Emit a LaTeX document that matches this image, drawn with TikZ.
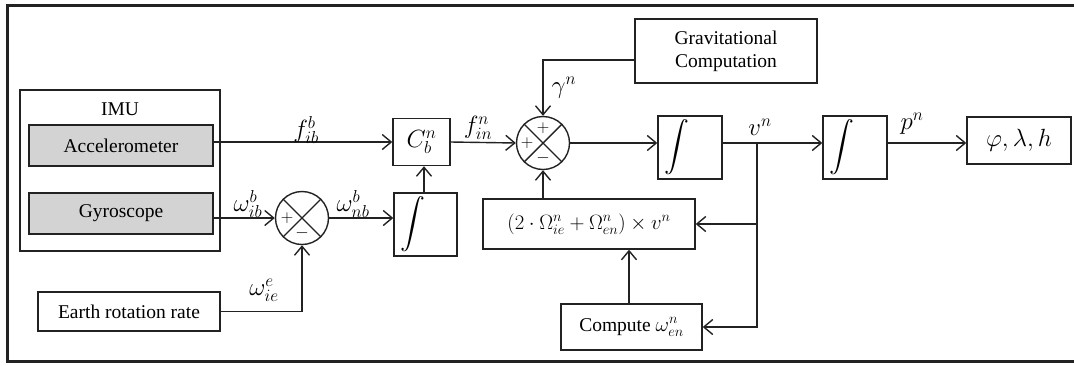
\documentclass[tikz,border=0pt]{standalone}
\usepackage{amsmath}
\usepackage{exscale}
\usepackage{fontspec}
\setmainfont{Liberation Serif}
\usetikzlibrary{arrows.meta}
\definecolor{boxgray}{RGB}{211,211,211}
\definecolor{ink}{RGB}{34,34,34}
\begin{document}
\begin{tikzpicture}[x=1pt,y=-1pt,
  every node/.style={font=\rmfamily\fontsize{19.5}{23}\selectfont},
  mfont/.style={font=\rmfamily\fontsize{23}{26}\selectfont},
  sfont/.style={font=\rmfamily\fontsize{19}{22}\selectfont},
  blk/.style={draw=ink,line width=1.4pt,rectangle,inner sep=0pt,align=center},
  sumnode/.style={draw=ink,line width=1.4pt,circle,minimum size=53pt,inner sep=0pt},
  arr/.style={draw=ink,line width=1.4pt,-{Straight Barb[length=9pt,width=15pt,line width=1.4pt]}},
  ln/.style={draw=ink,line width=1.4pt},
  lbl/.style={inner sep=0pt,mfont},
  sgn/.style={inner sep=0pt,sfont}]
\useasboundingbox (0,0) rectangle (1074,365);
% outer frame (right side outside the picture)
\draw[ink,line width=3pt] (1080,5) -- (7,5) -- (7,361) -- (1080,361);

% IMU group
\node[blk,minimum width=200pt,minimum height=161pt] (imu) at (120,170.5) {};
\node[inner sep=0pt] (imulbl) at (120,109) {IMU};
\node[blk,fill=boxgray,minimum width=184pt,minimum height=41pt] (acc) at (121,145.5) {Accelerometer};
\node[blk,fill=boxgray,minimum width=184pt,minimum height=41pt] (gyro) at (121,213.5) {Gyroscope};
\node[blk,minimum width=182pt,minimum height=39pt] (earth) at (129,311.5) {Earth rotation rate};

% sum 1
\node[sumnode] (s1) at (302,218) {};
\draw[ln] (s1.north west) -- (s1.south east);
\draw[ln] (s1.north east) -- (s1.south west);
\node[sgn] (s1p) at ([xshift=-15pt]s1.center) {$+$};
\node[sgn] (s1m) at ([yshift=-15pt]s1.center) {$-$};

% integrator 1 and Cbn
\node[blk,minimum width=63pt,minimum height=63pt,mfont] (int1) at (425.5,224.5) {$\displaystyle\int$\hspace{26pt}};
\node[blk,minimum width=57pt,minimum height=47pt,mfont] (cbn) at (421.5,142) {$C_b^n$};

% sum 2
\node[sumnode] (s2) at (543,143) {};
\draw[ln] (s2.north west) -- (s2.south east);
\draw[ln] (s2.north east) -- (s2.south west);
\node[sgn] (s2l) at ([xshift=-16pt]s2.center) {$+$};
\node[sgn] (s2t) at ([yshift=15pt]s2.center) {$+$};
\node[sgn] (s2m) at ([yshift=-15pt]s2.center) {$-$};

% gravitational computation
\node[blk,minimum width=182pt,minimum height=64pt] (grav) at (726,51) {Gravitational\\Computation};

% integrator 2, coriolis, compute
\node[blk,minimum width=64pt,minimum height=63pt,mfont] (int2) at (690,147.5) {$\displaystyle\int$\hspace{26pt}};
\node[blk,minimum width=212pt,minimum height=50pt,font=\rmfamily\fontsize{21.5}{24}\selectfont] (cor) at (589,224) {$(2\cdot\Omega_{ie}^n+\Omega_{en}^n)\times v^n$};
\node[blk,minimum width=141pt,minimum height=46pt] (comp) at (631.5,327) {Compute {\fontsize{22}{24}\selectfont$\omega_{en}^n$}};

% integrator 3 and output
\node[blk,minimum width=64pt,minimum height=63pt,mfont] (int3) at (855,147.5) {$\displaystyle\int$\hspace{26pt}};
\node[blk,minimum width=104pt,minimum height=47pt,mfont] (out) at (1019,140.5) {$\varphi,\lambda,h$};

\coordinate (vb) at (757,143);

% connectors
\draw[arr] (acc.east |- cbn) -- (cbn.west);
\draw[arr] (gyro.east |- s1) -- (s1.west);
\draw[arr] (earth.east) -| (s1.south);
\draw[arr] (s1.east) -- (s1.east -| int1.west);
\draw[arr] (int1.north -| 424,0) -- (cbn.south -| 424,0);
\draw[arr] (cbn.east) -- (s2.west);
\draw[arr] ([yshift=-9pt]grav.west) -| (s2.north);
\draw[arr] (s2.south |- cor.north) -- (s2.south);
\draw[arr] (s2.east) -- (s2.east -| int2.west);
\draw[ln] (int2.east |- vb) -- (vb);
\draw[arr] (vb) -- (vb -| int3.west);
\draw[arr] (vb) |- (cor.east);
\draw[arr] (vb) |- (comp.east);
\draw[arr] (comp.north -| 629,0) -- (cor.south -| 629,0);
\draw[arr] (int3.east |- vb) -- (out.west |- vb);

% signal labels
\node[lbl] (lfib) at (306,130) {$f_{ib}^b$};
\node[lbl] (lwib) at (248,204) {$\omega_{ib}^b$};
\node[lbl] (lwie) at (264,290) {$\omega_{ie}^e$};
\node[lbl] (lwnb) at (353,204) {$\omega_{nb}^b$};
\node[lbl] (lfin) at (478,128) {$f_{in}^n$};
\node[lbl] (lgam) at (564,88) {$\gamma^n$};
\node[lbl] (lvn) at (760,127) {$v^n$};
\node[lbl] (lpn) at (912,124) {$p^n$};
\end{tikzpicture}
\end{document}
